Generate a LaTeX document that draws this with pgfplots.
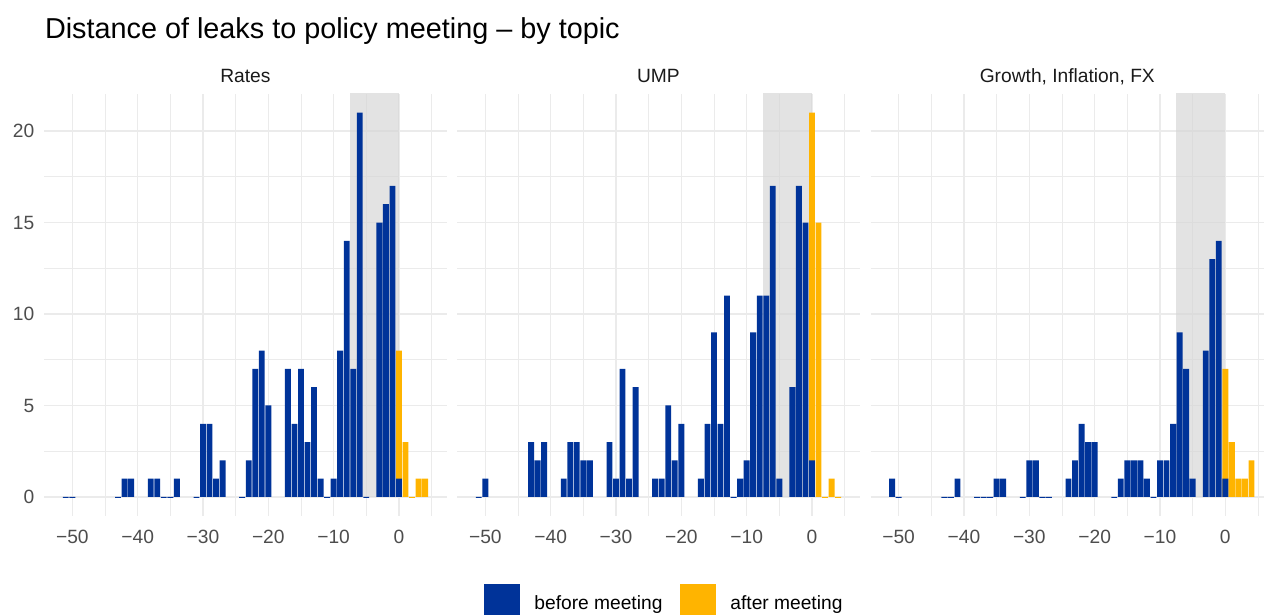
\documentclass[border=0pt]{standalone}
\usepackage{fontspec}
\setmainfont{Liberation Sans}
\usepackage{pgfplots}
\usepackage{pgfplotstable}
\pgfplotsset{compat=1.18}
\definecolor{ecbblue}{HTML}{003399}
\definecolor{ecborange}{HTML}{FFB400}
\definecolor{gridc}{HTML}{EBEBEB}
\definecolor{tickc}{HTML}{4D4D4D}
\definecolor{stripc}{HTML}{1A1A1A}
\definecolor{shadec}{RGB}{215,215,215}

% Rates
\pgfplotstableread{
x y
-51 0
-50 0
-43 0
-42 1
-41 1
-38 1
-37 1
-36 0
-35 0
-34 1
-31 0
-30 4
-29 4
-28 1
-27 2
-24 0
-23 2
-22 7
-21 8
-20 5
-17 7
-16 4
-15 7
-14 3
-13 6
-12 1
-11 0
-10 1
-9 8
-8 14
-7 7
-6 21
-5 0
-3 15
-2 16
-1 17
0 1
}\ratesbefore
% after meeting: top of bar (stacked on the before-meeting bar at 0)
\pgfplotstableread{
x y
0 8
1 3
2 0
3 1
4 1
}\ratesafter

% UMP
\pgfplotstableread{
x y
-51 0
-50 1
-43 3
-42 2
-41 3
-38 1
-37 3
-36 3
-35 2
-34 2
-31 3
-30 1
-29 7
-28 1
-27 6
-24 1
-23 1
-22 5
-21 2
-20 4
-17 1
-16 4
-15 9
-14 4
-13 11
-12 0
-11 1
-10 2
-9 9
-8 11
-7 11
-6 17
-5 1
-3 6
-2 17
-1 15
0 2
}\umpbefore
\pgfplotstableread{
x y
0 21
1 15
2 0
3 1
4 0
}\umpafter

% Growth, Inflation, FX
\pgfplotstableread{
x y
-51 1
-50 0
-43 0
-42 0
-41 1
-38 0
-37 0
-36 0
-35 1
-34 1
-31 0
-30 2
-29 2
-28 0
-27 0
-24 1
-23 2
-22 4
-21 3
-20 3
-17 0
-16 1
-15 2
-14 2
-13 2
-12 1
-11 0
-10 2
-9 2
-8 4
-7 9
-6 7
-5 1
-3 8
-2 13
-1 14
0 1
}\gifbefore
\pgfplotstableread{
x y
0 7
1 3
2 1
3 1
4 2
}\gifafter

\pgfplotsset{
  panel/.style={
    scale only axis, width=201.15pt, height=211.35pt,
    anchor=north west,
    xmin=-54.29, xmax=7.29, ymin=-1.05, ymax=22.05,
    axis line style={draw=none},
    major tick length=0pt, minor tick length=0pt,
    xtick={-50,-40,-30,-20,-10,0},
    xticklabels={−50,−40,−30,−20,−10,0},
    minor xtick={-45,-35,-25,-15,-5,5},
    ytick={0,5,10,15,20},
    minor ytick={2.5,7.5,12.5,17.5},
    /pgf/number format/assume math mode=true,
    grid=both,
    major grid style={color=gridc, line width=0.55pt},
    minor grid style={color=gridc, line width=0.3pt},
    tick label style={font=\fontsize{9.6}{11}\selectfont, text=tickc},
    xticklabel style={yshift=-3.3pt},
    yticklabel style={xshift=-1.45pt},
    title style={at={(0.5,1)}, anchor=base, yshift=-0.75pt,
      font=\fontsize{9.6}{11}\selectfont, text=stripc, inner sep=0pt},
  },
  barfill/.style={ybar, bar width=0.9, bar shift=0pt, fill=#1, draw=none},
  barzero/.style={ybar, bar width=0.9, bar shift=0pt, fill=none, draw=#1,
    line width=0.35pt, restrict y to domain=-0.1:0.1},
}

\begin{document}
\begin{tikzpicture}[x=1pt,y=1pt]
\path[use as bounding box] (0,0) rectangle (632,-307.5);
\node[anchor=base west, inner sep=0pt, font=\fontsize{14.4}{17}\selectfont]
  at (22.3,-19.5) {Distance of leaks to policy meeting – by topic};

\begin{axis}[panel, at={(22.15pt,-46.75pt)}, title={Rates},
  yticklabels={0,5,10,15,20}]
  \fill[shadec, fill opacity=0.7] (axis cs:-7.5,0) rectangle (axis cs:0,30);
  \addplot[barfill=ecborange] table {\ratesafter};
  \addplot[barzero=ecborange] table {\ratesafter};
  \addplot[barfill=ecbblue] table {\ratesbefore};
  \addplot[barzero=ecbblue] table {\ratesbefore};
\end{axis}

\begin{axis}[panel, at={(228.65pt,-46.75pt)}, title={UMP}, yticklabels={}]
  \fill[shadec, fill opacity=0.7] (axis cs:-7.5,0) rectangle (axis cs:0,30);
  \addplot[barfill=ecborange] table {\umpafter};
  \addplot[barzero=ecborange] table {\umpafter};
  \addplot[barfill=ecbblue] table {\umpbefore};
  \addplot[barzero=ecbblue] table {\umpbefore};
\end{axis}

\begin{axis}[panel, at={(435.3pt,-46.75pt)}, width=196.7pt, xmax=5.92,
  title={Growth, Inflation, FX}, yticklabels={}]
  \fill[shadec, fill opacity=0.7] (axis cs:-7.5,0) rectangle (axis cs:0,30);
  \addplot[barfill=ecborange] table {\gifafter};
  \addplot[barfill=ecbblue] table {\gifbefore};
  \addplot[barzero=ecbblue] table {\gifbefore};
\end{axis}

\fill[ecbblue] (242,-292) rectangle (260,-310);
\node[anchor=base west, inner sep=0pt, font=\fontsize{9.6}{11}\selectfont]
  at (267,-304.5) {before meeting};
\fill[ecborange] (340,-292) rectangle (358,-310);
\node[anchor=base west, inner sep=0pt, font=\fontsize{9.6}{11}\selectfont]
  at (365,-304.5) {after meeting};
\end{tikzpicture}
\end{document}
